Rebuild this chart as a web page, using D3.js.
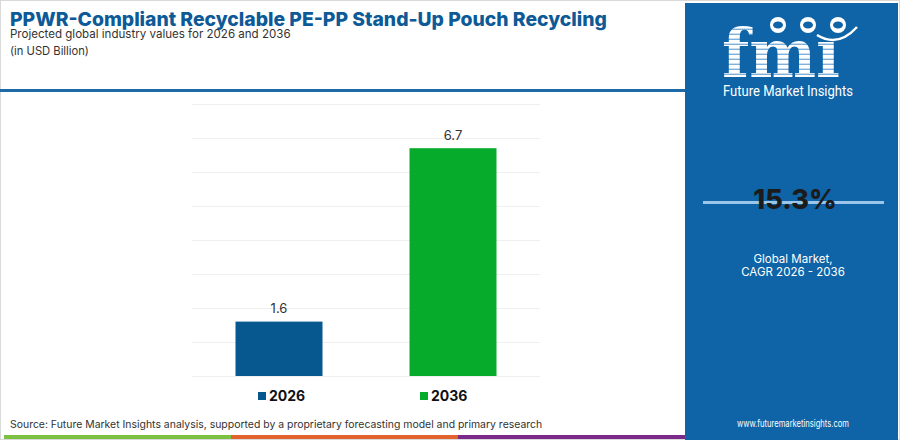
<!DOCTYPE html>
<html>
<head>
<meta charset="utf-8">
<script src="https://cdn.jsdelivr.net/npm/d3@7"></script>
<style>
  body { margin: 0; background: #fff; }
  svg { display: block; font-family: Inter, "Noto Sans", sans-serif; }
</style>
</head>
<body>
<svg id="chart" width="900" height="440"></svg>
<script>
'use strict';

// data
const years = ['2026', '2036'];
const values = [1.6, 6.7];
const gridTicks = [0, 1, 2, 3, 4, 5, 6, 7, 8];
const cagrLabel = '15.3%';
const cagrLines = ['Global Market,', 'CAGR 2026 - 2036'];

const barColors = ['#07588f', '#07ab2c'];
const stripeColors = ['#7cc142', '#e2622d', '#7b2a8c'];
const panelBlue = '#0e64a6';

const svg = d3.select('#chart');

// outer frame
svg.append('rect')
  .attr('x', 0.5).attr('y', 0.5)
  .attr('width', 899).attr('height', 439)
  .attr('fill', '#fff').attr('stroke', '#d9d9d9');

// header
function fitText(sel, width) {
  const w = sel.node().getComputedTextLength();
  const fs = parseFloat(sel.attr('font-size'));
  sel.attr('font-size', fs * width / w);
}

const title = svg.append('text')
  .attr('x', 10).attr('y', 26)
  .attr('font-size', 20).attr('font-weight', 800)
  .attr('fill', '#0d5a97')
  .text('PPWR-Compliant Recyclable PE-PP Stand-Up Pouch Recycling');
fitText(title, 597);

const sub = svg.append('text')
  .attr('x', 10).attr('y', 38)
  .attr('font-size', 13).attr('fill', '#333')
  .text('Projected global industry values for 2026 and 2036');
fitText(sub, 281);

const unit = svg.append('text')
  .attr('x', 10).attr('y', 55)
  .attr('font-size', 13).attr('fill', '#333')
  .text('(in USD Billion)');
fitText(unit, 79);

svg.append('line')
  .attr('x1', 0).attr('x2', 686)
  .attr('y1', 90.5).attr('y2', 90.5)
  .attr('stroke', '#1d6aa8').attr('stroke-width', 3);

// bar chart
const x = d3.scaleBand()
  .domain(years)
  .range([192, 540])
  .paddingInner(0.5)
  .paddingOuter(0.25);

const y = d3.scaleLinear()
  .domain([0, 8])
  .range([376, 104]);

const grid = svg.append('g')
  .attr('transform', 'translate(192,0)')
  .call(d3.axisLeft(y).tickValues(gridTicks).tickSize(-(540 - 192)).tickFormat(''));
grid.select('.domain').remove();
grid.selectAll('.tick line').attr('stroke', '#efefef').attr('stroke-width', 1);

svg.append('g').selectAll('rect')
  .data(values)
  .join('rect')
  .attr('x', (d, i) => x(years[i]))
  .attr('y', d => y(d))
  .attr('width', x.bandwidth())
  .attr('height', d => y(0) - y(d))
  .attr('fill', (d, i) => barColors[i]);

svg.append('g').selectAll('text')
  .data(values)
  .join('text')
  .attr('x', (d, i) => x(years[i]) + x.bandwidth() / 2)
  .attr('y', d => y(d) - 8.5)
  .attr('text-anchor', 'middle')
  .attr('font-size', 13)
  .attr('fill', '#333')
  .text(d => d.toFixed(1));

// legend
const legendX = [258, 420];
const leg = svg.append('g').selectAll('g')
  .data(years)
  .join('g')
  .attr('transform', (d, i) => `translate(${legendX[i]},392)`);
leg.append('rect')
  .attr('width', 8).attr('height', 8)
  .attr('fill', (d, i) => barColors[i]);
leg.append('text')
  .attr('x', 11).attr('y', 8.5)
  .attr('font-size', 14).attr('font-weight', 700)
  .attr('fill', '#111')
  .text(d => d);

// source + bottom stripe
const src = svg.append('text')
  .attr('x', 10).attr('y', 428)
  .attr('font-size', 12).attr('fill', '#333')
  .text('Source: Future Market Insights analysis, supported by a proprietary forecasting model and primary research');
fitText(src, 533);

const stripeX = d3.scaleLinear().domain([0, 3]).range([4, 685]);
svg.append('g').selectAll('rect')
  .data(stripeColors)
  .join('rect')
  .attr('x', (d, i) => stripeX(i))
  .attr('width', stripeX(1) - stripeX(0))
  .attr('y', 435).attr('height', 4)
  .attr('fill', d => d);

// right panel
const panel = svg.append('g');
panel.append('rect')
  .attr('x', 685).attr('y', 3)
  .attr('width', 213).attr('height', 437)
  .attr('fill', panelBlue);

// striped logo letters
const defs = svg.append('defs');
const pat = defs.append('pattern')
  .attr('id', 'stripes')
  .attr('patternUnits', 'userSpaceOnUse')
  .attr('width', 10).attr('height', 5);
pat.append('rect').attr('width', 10).attr('height', 5).attr('fill', '#fff');
pat.append('rect').attr('y', 3.6).attr('width', 10).attr('height', 1.4).attr('fill', '#7fb0da');

panel.append('text')
  .attr('x', 722).attr('y', 77)
  .attr('font-family', '"DejaVu Serif", serif')
  .attr('font-weight', 700)
  .attr('font-size', 68)
  .attr('textLength', 118)
  .attr('lengthAdjust', 'spacingAndGlyphs')
  .attr('fill', 'url(#stripes)')
  .text('fm\u0131');

const globes = [778, 808, 838];
panel.append('g').selectAll('circle')
  .data(globes)
  .join('circle')
  .attr('cx', d => d).attr('cy', 25).attr('r', 8)
  .attr('fill', '#fff');
panel.append('g').selectAll('ellipse')
  .data(globes)
  .join('ellipse')
  .attr('cx', d => d).attr('cy', 25).attr('rx', 5).attr('ry', 3.5)
  .attr('fill', panelBlue);
panel.append('path')
  .attr('d', 'M817,35 Q838,48 857,27')
  .attr('fill', 'none').attr('stroke', '#fff').attr('stroke-width', 2.5);

panel.append('text')
  .attr('x', 723).attr('y', 96)
  .attr('font-family', '"Liberation Sans Narrow", "Roboto", sans-serif')
  .attr('font-size', 15)
  .attr('textLength', 130)
  .attr('lengthAdjust', 'spacingAndGlyphs')
  .attr('fill', '#fff')
  .text('Future Market Insights');

panel.append('line')
  .attr('x1', 703).attr('x2', 884)
  .attr('y1', 202.5).attr('y2', 202.5)
  .attr('stroke', '#9cc5ea').attr('stroke-width', 3);

panel.append('text')
  .attr('x', 795).attr('y', 209)
  .attr('text-anchor', 'middle')
  .attr('font-size', 27).attr('font-weight', 800)
  .attr('fill', '#1b1b1b')
  .text(cagrLabel);

panel.append('g').selectAll('text')
  .data(cagrLines)
  .join('text')
  .attr('x', 793).attr('y', (d, i) => 263 + i * 12.5)
  .attr('text-anchor', 'middle')
  .attr('font-size', 11.5)
  .attr('fill', '#fff')
  .text(d => d);

panel.append('text')
  .attr('x', 793).attr('y', 427)
  .attr('text-anchor', 'middle')
  .attr('font-size', 10)
  .attr('textLength', 112)
  .attr('lengthAdjust', 'spacingAndGlyphs')
  .attr('fill', '#fff')
  .text('www.futuremarketinsights.com');
</script>
</body>
</html>
